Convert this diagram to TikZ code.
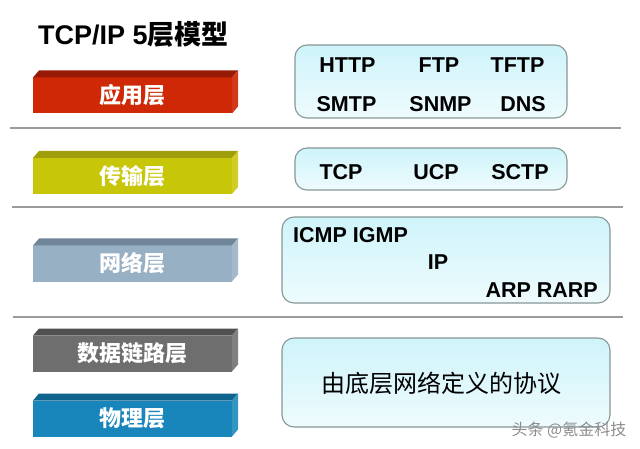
\documentclass[tikz,border=0pt]{standalone}
\usepackage{fontspec}
\setmainfont{Liberation Sans}
\newfontfamily\cjk{Noto Sans CJK SC}

\definecolor{appred}{RGB}{206,40,6}
\definecolor{appredtop}{RGB}{150,26,6}
\definecolor{transyel}{RGB}{200,198,8}
\definecolor{transyeltop}{RGB}{160,158,10}
\definecolor{netblue}{RGB}{152,176,196}
\definecolor{netbluetop}{RGB}{112,134,152}
\definecolor{linkgray}{RGB}{110,110,110}
\definecolor{linkgraytop}{RGB}{80,80,80}
\definecolor{phyblue}{RGB}{24,134,186}
\definecolor{phybluetop}{RGB}{14,100,140}
\definecolor{boxtop}{RGB}{206,244,250}
\definecolor{boxbot}{RGB}{238,251,253}
\definecolor{boxline}{RGB}{135,150,150}
\definecolor{sepline}{RGB}{155,155,155}

% top and right faces of a layer bar
\newcommand{\barfaces}[3]{%
  \fill[#2] (#1.north west) -- ++(6,-7) -- ([shift={(6,-7)}]#1.north east)
    -- (#1.north east) -- cycle;
  \fill[#3] (#1.north east) -- ++(6,-7) -- ([shift={(6,-7)}]#1.south east)
    -- (#1.south east) -- cycle;
}

\begin{document}
\begin{tikzpicture}[
    x=1pt, y=-1pt,
    layerbar/.style={minimum width=199pt, minimum height=36pt, inner sep=0pt,
      outer sep=0pt, text=white, font=\cjk\bfseries\fontsize{22}{24}\selectfont},
    protobox/.style={draw=boxline, line width=1.1pt, rounded corners=12pt,
      top color=boxtop, bottom color=boxbot, inner sep=0pt},
    proto/.style={inner sep=0pt, font=\bfseries\fontsize{21.5}{24}\selectfont},
    sep/.style={draw=sepline, line width=2.6pt}]

    \useasboundingbox (0,0) rectangle (640,449);

    % title
    \node [anchor=base west, inner sep=0pt] (title) at (38,45)
      {\fontsize{27}{30}\selectfont\bfseries TCP/IP 5\cjk 层模型};

    % layer bars on the left
    \node [layerbar, fill=appred] (app) at (132.5,95.5) {应用层};
    \barfaces{app}{appredtop}{appred!92!white}
    \node [layerbar, fill=transyel] (trans) at (132.5,176) {传输层};
    \barfaces{trans}{transyeltop}{transyel!88!white}
    \node [layerbar, fill=netblue] (net) at (132.5,263.5) {网络层};
    \barfaces{net}{netbluetop}{netblue!88!white}
    \node [layerbar, fill=linkgray] (link) at (132.5,353.5) {数据链路层};
    \barfaces{link}{linkgraytop}{linkgray!88!white}
    \node [layerbar, fill=phyblue] (phy) at (132.5,418.5) {物理层};
    \barfaces{phy}{phybluetop}{phyblue!88!white}

    % separating lines
    \coordinate (s1l) at (10,128);  \coordinate (s1r) at (621,128);
    \coordinate (s2l) at (12,207);  \coordinate (s2r) at (623,207);
    \coordinate (s3l) at (13,317);  \coordinate (s3r) at (623,317);
    \draw [sep] (s1l) -- (s1r);
    \draw [sep] (s2l) -- (s2r);
    \draw [sep] (s3l) -- (s3r);

    % protocol boxes on the right
    \node [protobox, minimum width=272pt, minimum height=73pt] (appbox) at (431,81.5) {};
    \node [protobox, minimum width=272pt, minimum height=42pt] (transbox) at (431,169) {};
    \node [protobox, minimum width=328pt, minimum height=86pt] (netbox) at (446,260) {};
    \node [protobox, minimum width=328pt, minimum height=89pt] (physbox) at (446,382.5) {};

    % application protocols
    \node [proto] (http) at (347.5,65.5) {HTTP};
    \node [proto] (ftp) at (439,65.5) {FTP};
    \node [proto] (tftp) at (517.5,65.5) {TFTP};
    \node [proto] (smtp) at (346.5,104.5) {SMTP};
    \node [proto] (snmp) at (440.5,104.5) {SNMP};
    \node [proto] (dns) at (523,104.5) {DNS};

    % transport protocols
    \node [proto] (tcp) at (341,172.5) {TCP};
    \node [proto] (ucp) at (436,172.5) {UCP};
    \node [proto] (sctp) at (520,172.5) {SCTP};

    % network protocols
    \node [proto, anchor=west] (icmp) at (293,235.5) {ICMP IGMP};
    \node [proto] (ip) at (438,262.5) {IP};
    \node [proto, anchor=east] (arp) at (598,290) {ARP RARP};

    % lower layers
    \node [inner sep=0pt, font=\cjk\fontsize{24}{26}\selectfont] (lower)
      at (441,383) {由底层网络定义的协议};

    % watermark
    \node [inner sep=0pt, text=black!45, font=\cjk\fontsize{16}{18}\selectfont]
      (mark) at (569,430) {头条 @氪金科技};

\end{tikzpicture}
\end{document}
